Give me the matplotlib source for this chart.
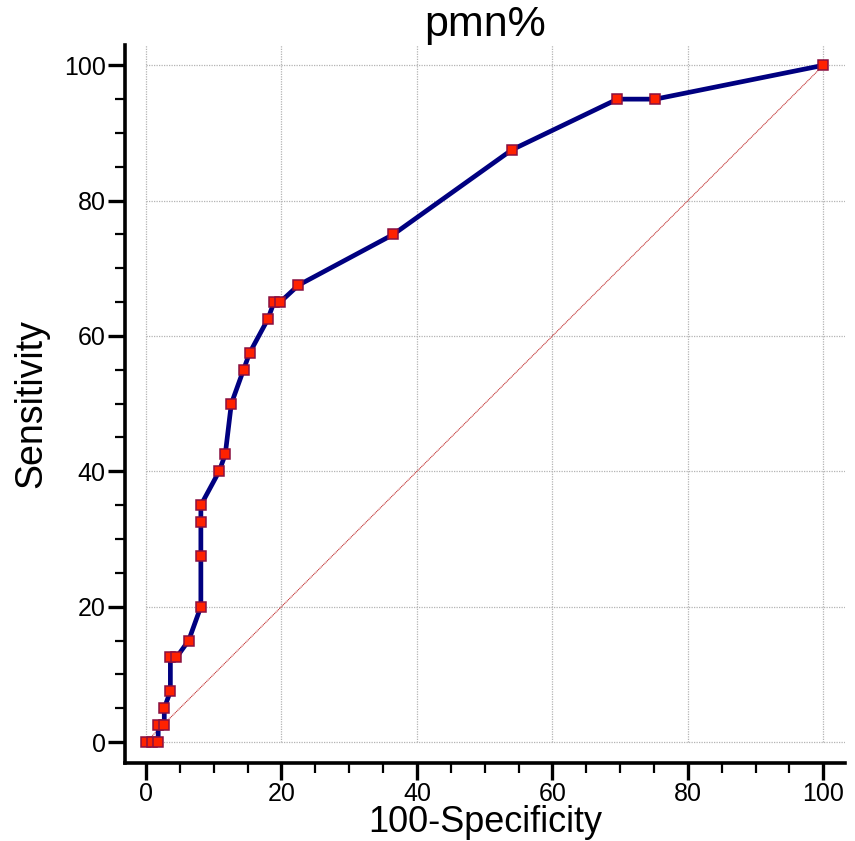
import matplotlib
matplotlib.use("Agg")
import matplotlib.pyplot as plt
from matplotlib import font_manager
import numpy as np

# ROC curve points (100-Specificity, Sensitivity)
fpr = [0, 0.9, 1.8, 1.8, 2.7, 2.7, 3.6, 3.6, 4.5, 6.3, 8.1, 8.1, 8.1, 8.1,
       10.8, 11.7, 12.6, 14.4, 15.3, 18.0, 18.9, 19.8, 22.5, 36.5, 54.0,
       69.6, 75.2, 100]
tpr = [0, 0, 0, 2.5, 2.5, 5, 7.5, 12.5, 12.5, 15, 20, 27.5, 32.5, 35,
       40, 42.5, 50, 55, 57.5, 62.5, 65, 65, 67.5, 75, 87.5,
       95, 95, 100]
diag = [0, 100]
major_ticks = [0, 20, 40, 60, 80, 100]
minor_ticks = [v for v in range(0, 101, 5) if v % 20 != 0]
title = "pmn%"
xlabel = "100-Specificity"
ylabel = "Sensitivity"

names = {f.name for f in font_manager.fontManager.ttflist}
fam = "Liberation Sans Narrow" if "Liberation Sans Narrow" in names else "Liberation Sans"
plt.rcParams['font.family'] = [fam, 'DejaVu Sans']

fig = plt.figure(figsize=(8.55, 8.41), dpi=100)
ax = fig.add_axes([125/855, 1-763/841, (845-125)/855, (763-45)/841])
ax.set_xlim(-3.1, 103.2)
ax.set_ylim(-3.1, 103.0)

# grid limited to the data region
for t in major_ticks:
    ax.plot([t, t], [0, 103.0], color='#b4b4b4', lw=0.9, ls=(0, (1, 1)), zorder=1)
    ax.plot([0, 103.2], [t, t], color='#b4b4b4', lw=0.9, ls=(0, (1, 1)), zorder=1)

ax.plot(diag, diag, color='#c03030', lw=0.8, ls=(0, (1, 0.6)), zorder=2)
ax.plot(fpr, tpr, color='#000080', lw=3.4, zorder=3,
        marker='s', markersize=7, markerfacecolor='#ff2200',
        markeredgecolor='#8a1040', markeredgewidth=1.1)

for s in ['top', 'right']:
    ax.spines[s].set_visible(False)
for s in ['left', 'bottom']:
    ax.spines[s].set_linewidth(2.6)

ax.set_xticks(major_ticks)
ax.set_yticks(major_ticks)
ax.set_xticks(minor_ticks, minor=True)
ax.set_yticks(minor_ticks, minor=True)
ax.tick_params(which='major', length=12, width=2.4, labelsize=18, pad=2)
ax.tick_params(which='minor', length=7, width=1.6)

ax.set_title(title, fontsize=31, pad=4)
ax.set_xlabel(xlabel, fontsize=26, labelpad=-1)
ax.set_ylabel(ylabel, fontsize=27, labelpad=10)

fig.savefig("out.png", dpi=100)
